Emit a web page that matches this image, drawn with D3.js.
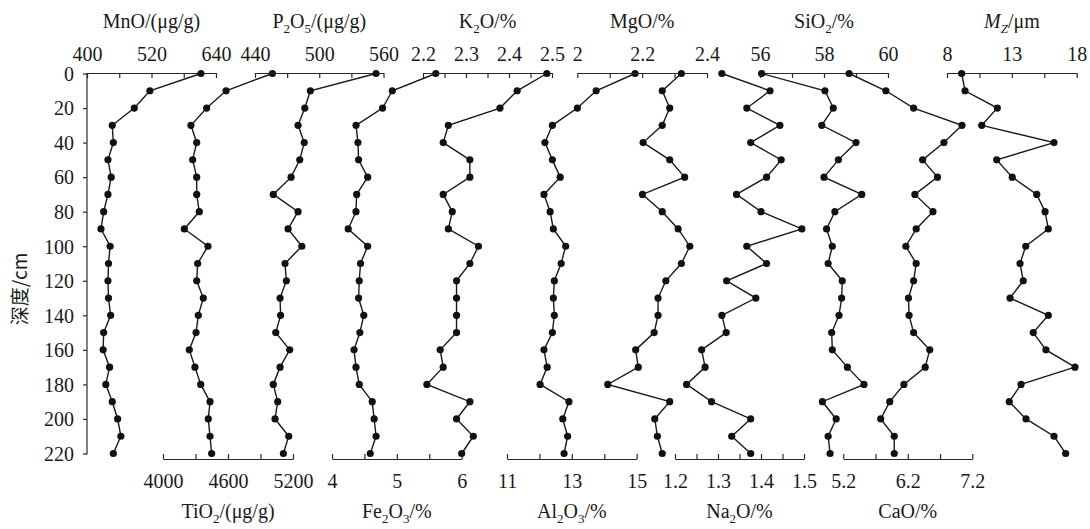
<!DOCTYPE html>
<html lang="zh">
<head>
  <meta charset="UTF-8">
  <title>Depth profiles</title>
  <style>
    body { margin: 0; background: #ffffff; }
    svg text { font-family: "Liberation Serif", "Times New Roman", serif; font-size: 20px; fill: #1a1a1a; }
    .axis path, .axis line { stroke: #2a2a2a; stroke-width: 1.2; }
    .cjk { font-family: "Noto Sans CJK SC", sans-serif; }
  </style>
</head>
<body>
  <svg id="chart"></svg>
  <script src="https://cdn.jsdelivr.net/npm/d3@7/dist/d3.min.js"></script>
  <script>
    const width = 1090;
    const height = 529;

    // depth in cm
    const depth = [0, 10, 20, 30, 40, 50, 60, 70, 80, 90, 100, 110, 120, 130, 140, 150, 160, 170, 180, 190, 200, 210, 220];
    const depthTicks = [0, 20, 40, 60, 80, 100, 120, 140, 160, 180, 200, 220];

    // series
    const mnO = [612, 517, 488, 447, 449, 439, 445, 439, 431, 426, 443, 440, 439, 440, 444, 431, 430, 442, 435, 447, 457, 463, 449];
    const tiO2 = [5010, 4582, 4403, 4258, 4311, 4274, 4311, 4311, 4335, 4197, 4415, 4320, 4311, 4372, 4326, 4305, 4243, 4295, 4348, 4434, 4418, 4434, 4449];
    const p2O5 = [553, 491.7, 486.5, 480.2, 486, 481.8, 473.7, 457.1, 480.2, 470.9, 483.7, 468, 469.3, 463.4, 463.9, 459.4, 472.4, 463.4, 457.1, 461.2, 458.7, 471.5, 466.5];
    const fe2O3 = [5.60, 4.93, 4.78, 4.37, 4.40, 4.41, 4.55, 4.38, 4.37, 4.25, 4.55, 4.44, 4.42, 4.41, 4.49, 4.43, 4.34, 4.37, 4.42, 4.62, 4.65, 4.68, 4.59];
    const k2O = [2.488, 2.419, 2.379, 2.259, 2.247, 2.309, 2.309, 2.247, 2.268, 2.259, 2.329, 2.309, 2.278, 2.278, 2.278, 2.278, 2.240, 2.247, 2.209, 2.309, 2.278, 2.317, 2.290];
    const al2O3 = [14.95, 13.75, 13.17, 12.40, 12.17, 12.40, 12.64, 12.14, 12.33, 12.43, 12.81, 12.67, 12.46, 12.43, 12.46, 12.40, 12.14, 12.24, 12.02, 12.91, 12.72, 12.87, 12.76];
    const mgO = [2.321, 2.262, 2.285, 2.262, 2.203, 2.285, 2.331, 2.201, 2.262, 2.311, 2.347, 2.321, 2.273, 2.249, 2.249, 2.237, 2.180, 2.188, 2.094, 2.285, 2.239, 2.247, 2.262];
    const na2O = [1.309, 1.421, 1.367, 1.444, 1.376, 1.447, 1.413, 1.343, 1.400, 1.495, 1.367, 1.413, 1.320, 1.388, 1.309, 1.319, 1.262, 1.270, 1.227, 1.285, 1.376, 1.332, 1.376];
    const siO2 = [56.05, 58.03, 58.29, 57.93, 59.00, 58.45, 58.00, 59.18, 58.34, 58.08, 58.26, 58.13, 58.57, 58.55, 58.47, 58.24, 58.26, 58.73, 59.25, 57.95, 58.38, 58.13, 58.19];
    const caO = [5.29, 5.86, 6.29, 7.04, 6.76, 6.43, 6.66, 6.31, 6.59, 6.33, 6.17, 6.33, 6.29, 6.21, 6.22, 6.29, 6.54, 6.47, 6.14, 5.92, 5.78, 5.99, 5.99];
    const mz = [9.13, 9.39, 11.88, 10.68, 16.25, 11.83, 13.03, 14.92, 15.56, 15.81, 14.07, 13.63, 13.88, 12.86, 15.81, 14.65, 15.63, 17.87, 13.71, 12.80, 14.09, 16.25, 17.15];

    // tick values and the ones that carry a label
    const mnOTicks = [400, 460, 520, 580, 640], mnOLabels = [400, 520, 640];
    const tiO2Ticks = [4000, 4300, 4600, 4900, 5200], tiO2Labels = [4000, 4600, 5200];
    const p2O5Ticks = [440, 470, 500, 530, 560], p2O5Labels = [440, 500, 560];
    const fe2O3Ticks = [4, 4.5, 5, 5.5, 6], fe2O3Labels = [4, 5, 6];
    const k2OTicks = [2.2, 2.25, 2.3, 2.35, 2.4, 2.45, 2.5], k2OLabels = [2.2, 2.3, 2.4, 2.5];
    const al2O3Ticks = [11, 12, 13, 14, 15], al2O3Labels = [11, 13, 15];
    const mgOTicks = [2, 2.1, 2.2, 2.3, 2.4], mgOLabels = [2, 2.2, 2.4];
    const na2OTicks = [1.2, 1.25, 1.3, 1.35, 1.4, 1.45, 1.5], na2OLabels = [1.2, 1.3, 1.4, 1.5];
    const siO2Ticks = [56, 57, 58, 59, 60], siO2Labels = [56, 58, 60];
    const caOTicks = [5.2, 5.7, 6.2, 6.7, 7.2], caOLabels = [5.2, 6.2, 7.2];
    const mzTicks = [8, 10.5, 13, 15.5, 18], mzLabels = [8, 13, 18];

    // title pieces: [text, subscript?, italic?]
    const panels = [
      { values: mnO, ticks: mnOTicks, labels: mnOLabels, side: "top", x0: 87, x1: 216, title: [["MnO/(μg/g)"]] },
      { values: tiO2, ticks: tiO2Ticks, labels: tiO2Labels, side: "bottom", x0: 163, x1: 293, title: [["TiO"], ["2", 1], ["/(μg/g)"]] },
      { values: p2O5, ticks: p2O5Ticks, labels: p2O5Labels, side: "top", x0: 255, x1: 383.5, title: [["P"], ["2", 1], ["O"], ["5", 1], ["/(μg/g)"]] },
      { values: fe2O3, ticks: fe2O3Ticks, labels: fe2O3Labels, side: "bottom", x0: 332, x1: 461.7, title: [["Fe"], ["2", 1], ["O"], ["3", 1], ["/%"]] },
      { values: k2O, ticks: k2OTicks, labels: k2OLabels, side: "top", x0: 423, x1: 552, title: [["K"], ["2", 1], ["O/%"]] },
      { values: al2O3, ticks: al2O3Ticks, labels: al2O3Labels, side: "bottom", x0: 507, x1: 636.7, title: [["Al"], ["2", 1], ["O"], ["3", 1], ["/%"]] },
      { values: mgO, ticks: mgOTicks, labels: mgOLabels, side: "top", x0: 577.3, x1: 707, title: [["MgO/%"]] },
      { values: na2O, ticks: na2OTicks, labels: na2OLabels, side: "bottom", x0: 675, x1: 804, title: [["Na"], ["2", 1], ["O/%"]] },
      { values: siO2, ticks: siO2Ticks, labels: siO2Labels, side: "top", x0: 760, x1: 888, title: [["SiO"], ["2", 1], ["/%"]] },
      { values: caO, ticks: caOTicks, labels: caOLabels, side: "bottom", x0: 843.3, x1: 972.3, title: [["CaO/%"]] },
      { values: mz, ticks: mzTicks, labels: mzLabels, side: "top", x0: 947, x1: 1076.7, title: [["M", 0, 1], ["Z", 1, 1], ["/μm"]] }
    ];

    const svg = d3.select("#chart").attr("width", width).attr("height", height);

    const yTop = 73.5, yBottom = 453.5, bottomAxisY = 459;
    const y = d3.scaleLinear().domain([0, 220]).range([yTop, yBottom]);

    // depth axis
    const yAxis = svg.append("g")
      .attr("class", "axis")
      .attr("transform", "translate(87,0)")
      .call(d3.axisLeft(y).tickValues(depthTicks).tickSizeInner(4).tickSizeOuter(0).tickPadding(9));
    yAxis.selectAll("text").style("font-size", "20px").attr("dy", "0.34em");
    yAxis.select(".domain").attr("d", `M0,${yTop - 0.5}V${yBottom + 1}`);

    svg.append("text")
      .attr("class", "cjk")
      .attr("transform", "translate(27,289) rotate(-90)")
      .attr("text-anchor", "middle")
      .style("font-size", "19px")
      .text("深度/cm");

    function addTitle(g, parts, x, yPos) {
      const t = g.append("text").attr("x", x).attr("y", yPos).attr("text-anchor", "middle");
      let shifted = false;
      parts.forEach(([s, sub, ital]) => {
        const span = t.append("tspan").text(s);
        if (ital) span.style("font-style", "italic");
        if (sub && !shifted) { span.attr("dy", 5).style("font-size", "13px"); shifted = true; }
        else if (!sub && shifted) { span.attr("dy", -5); shifted = false; }
        else if (sub) span.style("font-size", "13px");
      });
    }

    panels.forEach(p => {
      const x = d3.scaleLinear().domain([p.ticks[0], p.ticks[p.ticks.length - 1]]).range([p.x0, p.x1]);
      const fmt = v => p.labels.some(l => Math.abs(l - v) < 1e-9) ? String(v) : "";
      const top = p.side === "top";

      const axis = (top ? d3.axisTop(x) : d3.axisBottom(x))
        .tickValues(p.ticks)
        .tickFormat(fmt)
        .tickSizeInner(-5)
        .tickSizeOuter(0)
        .tickPadding(top ? 12 : 15);

      const g = svg.append("g")
        .attr("class", "axis")
        .attr("transform", `translate(0,${top ? yTop - 0.5 : bottomAxisY})`)
        .call(axis);
      g.selectAll("text").style("font-size", "20px");

      addTitle(svg, p.title, (p.x0 + p.x1) / 2, top ? 28 : 518);

      const pts = depth.map((d, i) => [x(p.values[i]), y(d)]);

      svg.append("path")
        .datum(pts)
        .attr("fill", "none")
        .attr("stroke", "#1a1a1a")
        .attr("stroke-width", 1.4)
        .attr("d", d3.line());

      svg.append("g")
        .selectAll("circle")
        .data(pts)
        .enter().append("circle")
        .attr("cx", d => d[0])
        .attr("cy", d => d[1])
        .attr("r", 3.6)
        .attr("fill", "#111");
    });
  </script>
</body>
</html>
